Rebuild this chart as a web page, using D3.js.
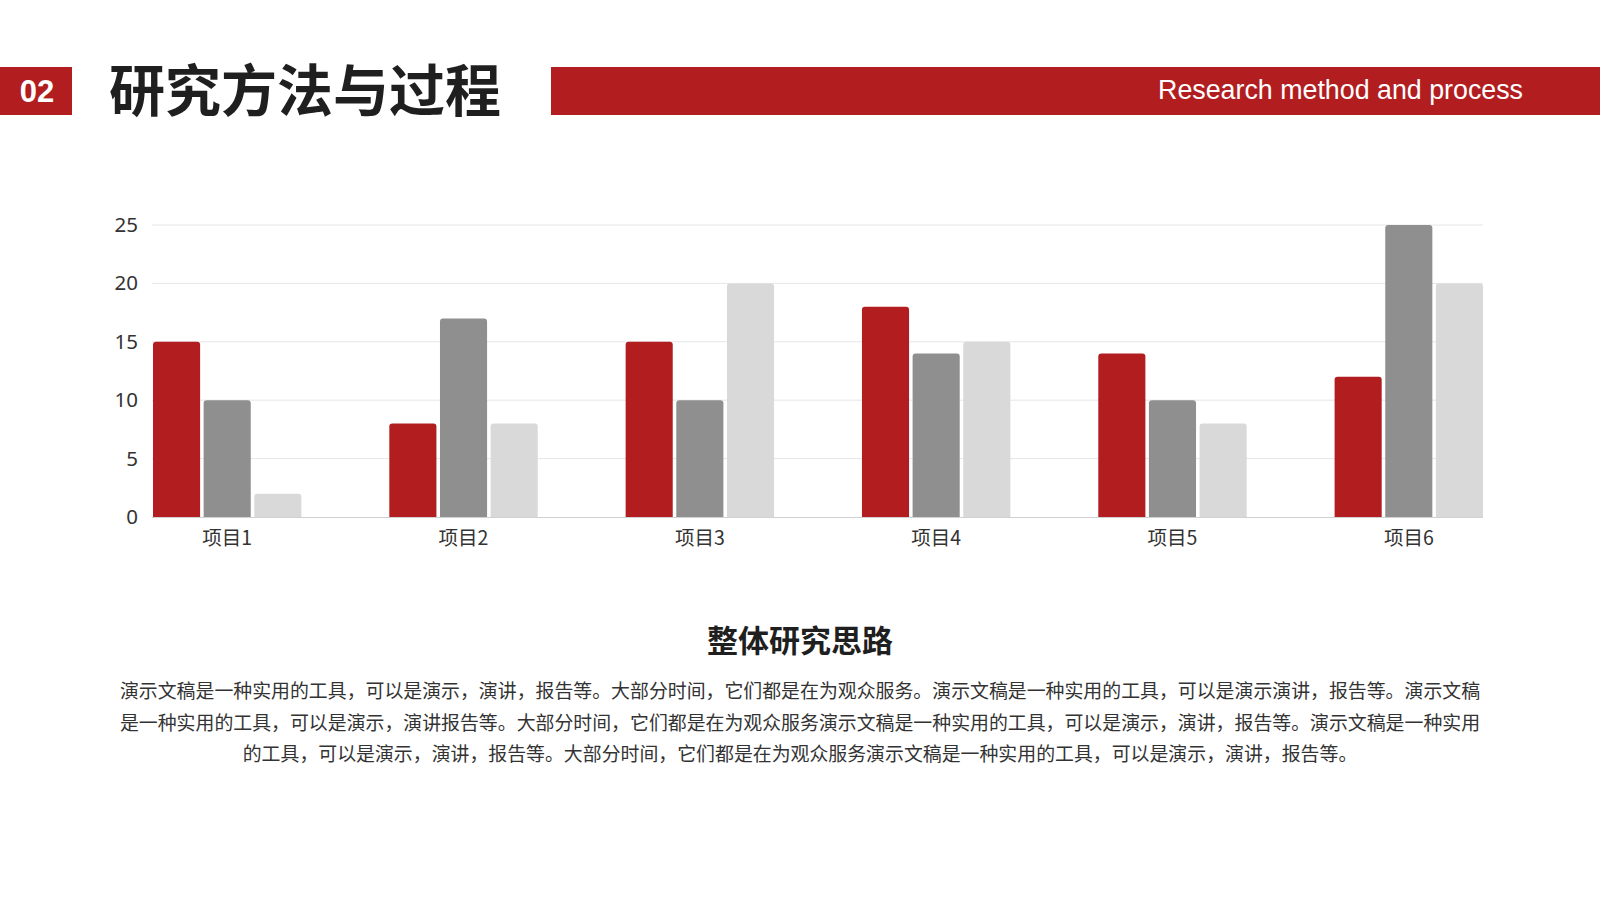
<!DOCTYPE html>
<html lang="zh">
  <head>
    <meta charset="UTF-8" />
    <title>研究方法与过程</title>
    <script src="https://cdn.jsdelivr.net/npm/d3@7.8.5/dist/d3.min.js"></script>
    <style>
      html, body { margin: 0; padding: 0; background: #fff; }
      svg { display: block; }
      text { font-family: 'Noto Sans CJK SC', 'Noto Sans', sans-serif; }
    </style>
  </head>
  <body>
    <div id="box"></div>
    <script>
      const width = 1600;
      const height = 900;

      // 数据
      const categories = ['项目1', '项目2', '项目3', '项目4', '项目5', '项目6'];
      const seriesA = [15, 8, 15, 18, 14, 12];
      const seriesB = [10, 17, 10, 14, 10, 25];
      const seriesC = [2, 8, 20, 15, 8, 20];
      const yTicks = [0, 5, 10, 15, 20, 25];
      const colors = ['#b21e20', '#8f8f8f', '#d9d9d9'];

      const title = '研究方法与过程';
      const subTitle = 'Research method and process';
      const sectionTitle = '整体研究思路';
      const paragraph = [
        '演示文稿是一种实用的工具，可以是演示，演讲，报告等。大部分时间，它们都是在为观众服务。演示文稿是一种实用的工具，可以是演示演讲，报告等。演示文稿',
        '是一种实用的工具，可以是演示，演讲报告等。大部分时间，它们都是在为观众服务演示文稿是一种实用的工具，可以是演示，演讲，报告等。演示文稿是一种实用',
        '的工具，可以是演示，演讲，报告等。大部分时间，它们都是在为观众服务演示文稿是一种实用的工具，可以是演示，演讲，报告等。'
      ];

      const svg = d3.select('#box').append('svg').attr('width', width).attr('height', height);

      /* 页眉 */
      svg.append('rect').attr('x', 0).attr('y', 67).attr('width', 72).attr('height', 48).attr('fill', '#b21e20');
      svg.append('text')
        .attr('x', 37).attr('y', 91).attr('dy', '0.36em')
        .attr('text-anchor', 'middle')
        .attr('fill', '#fff')
        .style('font-family', "'Liberation Sans', Arial, sans-serif")
        .attr('font-weight', 'bold')
        .attr('font-size', 31)
        .text('02');
      svg.append('text')
        .attr('x', 109).attr('y', 91).attr('dy', '0.36em')
        .attr('fill', '#1f1f1f')
        .attr('font-weight', 'bold')
        .attr('font-size', 56)
        .text(title);
      svg.append('rect').attr('x', 551).attr('y', 67).attr('width', width - 551).attr('height', 48).attr('fill', '#b21e20');
      svg.append('text')
        .attr('x', 1523).attr('y', 90).attr('dy', '0.35em')
        .attr('text-anchor', 'end')
        .attr('fill', '#fff')
        .style('font-family', "'Liberation Sans', Arial, sans-serif")
        .attr('font-size', 26.8)
        .text(subTitle);

      /* 图表 */
      const margin = {left: 153, right: 117, top: 225, bottom: 383};
      const x0 = d3.scaleBand()
        .domain(categories)
        .range([margin.left, width - margin.right])
        .paddingInner(0.372)
        .paddingOuter(0);
      const x1 = d3.scaleBand()
        .domain([0, 1, 2])
        .range([0, x0.bandwidth()])
        .paddingInner(0.07);
      const y = d3.scaleLinear()
        .domain([0, 25])
        .range([height - margin.bottom, margin.top]);

      // 网格线
      svg.append('g')
        .selectAll('line')
        .data(yTicks.slice(1))
        .join('line')
        .attr('x1', margin.left - 1)
        .attr('x2', width - margin.right)
        .attr('y1', d => y(d))
        .attr('y2', d => y(d))
        .attr('stroke', '#e6e6e6')
        .attr('stroke-width', 1);

      // Y轴
      const yAxis = d3.axisLeft(y).tickValues(yTicks).tickSize(0).tickPadding(15);
      svg.append('g')
        .attr('transform', `translate(${margin.left},0)`)
        .call(yAxis)
        .call(g => g.select('.domain').remove())
        .selectAll('text')
        .attr('fill', '#333')
        .attr('font-size', 20.5)
        .style('font-family', "'Noto Sans', 'Noto Sans CJK SC', sans-serif");

      // 柱子
      const series = [seriesA, seriesB, seriesC];
      const r = 3;
      const barPath = (bx, by, bw, bh) => {
        const rr = Math.min(r, bh);
        return `M${bx},${by + bh}V${by + rr}Q${bx},${by} ${bx + rr},${by}H${bx + bw - rr}Q${bx + bw},${by} ${bx + bw},${by + rr}V${by + bh}Z`;
      };
      const groups = svg.append('g')
        .selectAll('g')
        .data(categories)
        .join('g')
        .attr('transform', d => `translate(${x0(d)},0)`);
      groups.selectAll('path')
        .data((d, i) => series.map((s, k) => ({k, v: s[i]})))
        .join('path')
        .attr('fill', d => colors[d.k])
        .attr('d', d => barPath(x1(d.k), y(d.v), x1.bandwidth(), y(0) - y(d.v)));

      // X轴
      const xAxis = d3.axisBottom(x0).tickSize(0).tickPadding(14);
      svg.append('g')
        .attr('transform', `translate(0,${y(0)})`)
        .call(xAxis)
        .call(g => g.select('.domain').attr('stroke', '#d0d0d0').attr('d', `M${margin.left - 1},0.5H${width - margin.right}`))
        .selectAll('text')
        .attr('fill', '#333')
        .attr('font-size', 19.5)
        .style('font-family', "'Noto Sans CJK SC', sans-serif");

      /* 文字部分 */
      svg.append('text')
        .attr('x', 800).attr('y', 641).attr('dy', '0.36em')
        .attr('text-anchor', 'middle')
        .attr('fill', '#1f1f1f')
        .attr('font-weight', 'bold')
        .attr('font-size', 31)
        .text(sectionTitle);

      svg.append('g')
        .selectAll('text')
        .data(paragraph)
        .join('text')
        .attr('x', 800)
        .attr('y', (d, i) => 691 + i * 31.8)
        .attr('dy', '0.36em')
        .attr('text-anchor', 'middle')
        .attr('fill', '#333')
        .attr('font-size', 18.9)
        .text(d => d);
    </script>
  </body>
</html>
